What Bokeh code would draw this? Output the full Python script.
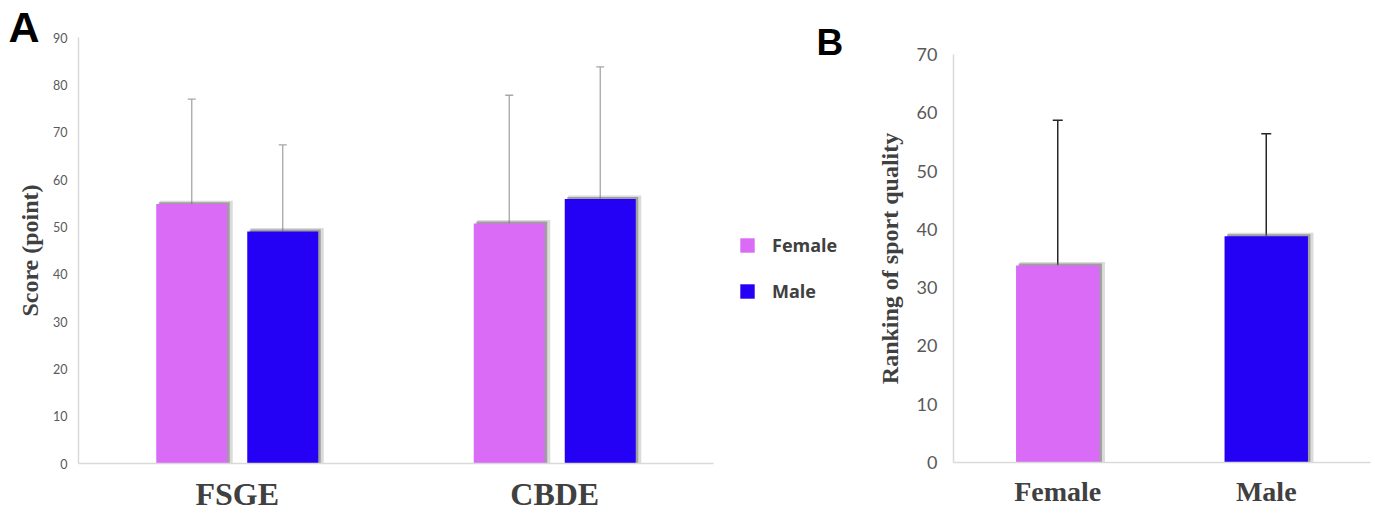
import math
from bokeh.plotting import figure
from bokeh.models import (ColumnDataSource, FactorRange, Range1d, Whisker, TeeHead,
                          Legend, LegendItem, Label, SingleIntervalTicker)
from bokeh.layouts import row
from bokeh.transform import dodge
from bokeh.embed import file_html
from bokeh.resources import INLINE

# ---------------- data ----------------
# Panel A: scores by gender
groups_a = ["FSGE", "CBDE"]
female_score = [54.8, 50.7]
female_sd = [22.2, 27.1]
male_score = [49.0, 55.9]
male_sd = [18.3, 27.9]

# Panel B: ranking of sport quality
genders_b = ["Female", "Male"]
ranking = [33.8, 38.8]
ranking_sd = [24.9, 17.6]

series_labels = ["Female", "Male"]

FEMALE = "#d96bf7"
MALE = "#2400f5"
TICK_COL = "#595959"
TITLE_COL = "#404040"
AXIS_COL = "#d9d9d9"
SHADOW = "#6e6e6e"
SERIF = "Liberation Serif"
H = 514


def no_align(p):
    try:
        p.frame_align = False
    except Exception:
        pass


def style_axes(p, tick_size, tick_standoff, x_size, x_standoff):
    p.xgrid.visible = False
    p.ygrid.visible = False
    p.outline_line_color = None
    p.yaxis.ticker = SingleIntervalTicker(interval=10)
    for ax in (p.xaxis[0], p.yaxis[0]):
        ax.axis_line_color = AXIS_COL
        ax.axis_line_width = 1.5
        ax.major_tick_line_color = None
        ax.minor_tick_line_color = None
        ax.major_tick_out = 0
        ax.minor_tick_out = 0
    p.yaxis.major_label_text_font = "Lato"
    p.yaxis.major_label_text_font_size = tick_size
    p.yaxis.major_label_text_color = TICK_COL
    p.yaxis.major_label_standoff = tick_standoff
    p.xaxis.major_label_text_font = SERIF
    p.xaxis.major_label_text_font_style = "bold"
    p.xaxis.major_label_text_font_size = x_size
    p.xaxis.major_label_text_color = TITLE_COL
    p.xaxis.major_label_standoff = x_standoff


# ---------------- left strip: panel letter + y title of A ----------------
pL = figure(width=48, height=H, x_range=Range1d(0, 1), y_range=Range1d(0, 1),
            output_backend="svg", toolbar_location=None,
            x_axis_location=None, y_axis_location=None,
            min_border_left=0, min_border_right=0, min_border_top=0, min_border_bottom=0)
pL.outline_line_color = None
pL.grid.visible = False
no_align(pL)
pL.add_layout(Label(x=8, y=H - 26, x_units="screen", y_units="screen", text="A",
                    text_font="Liberation Sans", text_font_style="bold",
                    text_font_size="43px", text_color="black", text_baseline="alphabetic"))
pL.add_layout(Label(x=29, y=H - 250, x_units="screen", y_units="screen",
                    text="Score (point)", angle=math.pi / 2,
                    text_font=SERIF, text_font_style="bold", text_font_size="24px",
                    text_color=TITLE_COL, text_align="center", text_baseline="middle"))

# ---------------- Panel A ----------------
px_x_a = 1 / 317.5
px_y_a = 90 / 429.0
src_a = ColumnDataSource(dict(
    group=groups_a,
    f=female_score, f_up=[v + s for v, s in zip(female_score, female_sd)],
    m=male_score, m_up=[v + s for v, s in zip(male_score, male_sd)],
))
# shadow tops (bar tops lifted by a few pixels)
src_a.data["f_sh1"] = [v + 2.0 * px_y_a for v in female_score]
src_a.data["f_sh2"] = [v + 3.5 * px_y_a for v in female_score]
src_a.data["m_sh1"] = [v + 2.0 * px_y_a for v in male_score]
src_a.data["m_sh2"] = [v + 3.5 * px_y_a for v in male_score]

pA = figure(x_range=FactorRange(*groups_a, range_padding=0), y_range=Range1d(0, 90),
            width=677, height=H, output_backend="svg", toolbar_location=None,
            min_border_left=30, min_border_right=12, min_border_top=37, min_border_bottom=48)
no_align(pA)

off_a = 0.1433
bw_a = 0.2236

for col, off in [("f", -off_a), ("m", off_a)]:
    pA.vbar(x=dodge("group", off + 4.5 * px_x_a, range=pA.x_range), top=col + "_sh2",
            bottom=0, width=bw_a + 2 * px_x_a, source=src_a, fill_color=SHADOW,
            fill_alpha=0.25, line_color=None)
    pA.vbar(x=dodge("group", off + 2.5 * px_x_a, range=pA.x_range), top=col + "_sh1",
            bottom=0, width=bw_a, source=src_a, fill_color=SHADOW,
            fill_alpha=0.55, line_color=None)

for col, up, off, color in [("f", "f_up", -off_a, FEMALE), ("m", "m_up", off_a, MALE)]:
    pA.vbar(x=dodge("group", off, range=pA.x_range), top=col, bottom=0,
            width=bw_a, source=src_a, fill_color=color, line_color=None)
    pA.add_layout(Whisker(base=dodge("group", off, range=pA.x_range), upper=up, lower=col,
                          source=src_a, line_color="#a6a6a6", line_width=1.3,
                          upper_head=TeeHead(size=8, line_color="#a6a6a6", line_width=1.3),
                          lower_head=None))

style_axes(pA, "12.5px", 11, "32px", 12)

# ---------------- middle strip: legend + panel letter B ----------------
pM = figure(width=125, height=H, x_range=Range1d(0, 1), y_range=Range1d(0, 1),
            output_backend="svg", toolbar_location=None,
            x_axis_location=None, y_axis_location=None,
            min_border_left=0, min_border_right=0, min_border_top=0, min_border_bottom=0)
pM.outline_line_color = None
pM.grid.visible = False
no_align(pM)
# legend key glyphs (kept outside the visible range of this strip)
key_f = pM.vbar(x=[5], top=[5], bottom=[4], width=0.1, fill_color=FEMALE, line_color=None)
key_m = pM.vbar(x=[5], top=[5], bottom=[4], width=0.1, fill_color=MALE, line_color=None)
legend = Legend(items=[LegendItem(label=series_labels[0], renderers=[key_f]),
                       LegendItem(label=series_labels[1], renderers=[key_m])],
                location=(13, H - 303), padding=0, margin=0, border_line_color=None,
                background_fill_alpha=0, glyph_width=18, glyph_height=18,
                label_standoff=16, spacing=22, label_text_font="Open Sans",
                label_text_font_style="bold", label_text_font_size="18px",
                label_text_color=TITLE_COL)
pM.add_layout(legend, "center")
pM.add_layout(Label(x=91, y=H - 42, x_units="screen", y_units="screen", text="B",
                    text_font="Liberation Sans", text_font_style="bold",
                    text_font_size="37px", text_color="black", text_baseline="alphabetic"))

# ---------------- Panel B ----------------
px_x_b = 1 / 208.5
px_y_b = 70 / 408.0
src_b = ColumnDataSource(dict(
    g=genders_b, v=ranking, up=[v + s for v, s in zip(ranking, ranking_sd)],
    color=[FEMALE, MALE],
))
src_b.data["sh1"] = [v + 2.0 * px_y_b for v in ranking]
src_b.data["sh2"] = [v + 3.5 * px_y_b for v in ranking]

pB = figure(x_range=FactorRange(*genders_b, range_padding=0), y_range=Range1d(0, 70),
            width=525, height=H, output_backend="svg", toolbar_location=None,
            min_border_left=103, min_border_right=5, min_border_top=54, min_border_bottom=52)
no_align(pB)

bw_b = 0.40
pB.vbar(x=dodge("g", 4.5 * px_x_b, range=pB.x_range), top="sh2", bottom=0,
        width=bw_b + 2 * px_x_b, source=src_b, fill_color=SHADOW, fill_alpha=0.25,
        line_color=None)
pB.vbar(x=dodge("g", 2.5 * px_x_b, range=pB.x_range), top="sh1", bottom=0, width=bw_b,
        source=src_b, fill_color=SHADOW, fill_alpha=0.55, line_color=None)
pB.vbar(x="g", top="v", bottom=0, width=bw_b, source=src_b, fill_color="color",
        line_color=None)
pB.add_layout(Whisker(base="g", upper="up", lower="v", source=src_b,
                      line_color="#262626", line_width=1.5,
                      upper_head=TeeHead(size=10, line_color="#262626", line_width=1.5),
                      lower_head=None))

style_axes(pB, "18px", 16, "28px", 13)
pB.yaxis.axis_label = "Ranking of sport quality"
pB.yaxis.axis_label_text_font = SERIF
pB.yaxis.axis_label_text_font_style = "bold"
pB.yaxis.axis_label_text_font_size = "24px"
pB.yaxis.axis_label_text_color = TITLE_COL
pB.yaxis.axis_label_standoff = 11

layout = row(pL, pA, pM, pB)
open("out.html", "w").write(file_html(layout, INLINE))
